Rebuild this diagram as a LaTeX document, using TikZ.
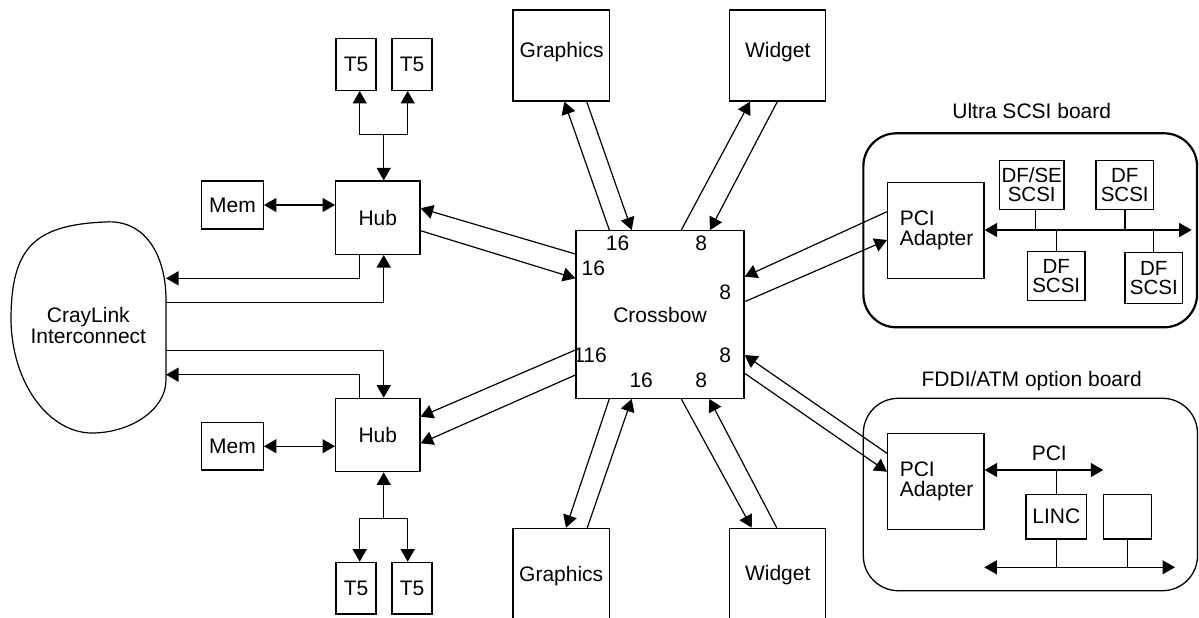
\documentclass[tikz,border=0pt]{standalone}
\usepackage{fontspec}
\setmainfont{Liberation Sans}
\usetikzlibrary{arrows.meta}
\begin{document}
\begin{tikzpicture}[x=1pt,y=-1pt,line width=1.2pt,
  font=\fontsize{21}{20.5}\selectfont,
  >={Triangle[length=12.5pt,width=14pt]},
  box/.style={draw,line width=1.3pt,inner sep=0pt,align=center},
  lbl/.style={inner sep=0pt,align=center},
  scsi/.style={box,font=\fontsize{20.5}{19.2}\selectfont},
  adapter/.style={box,minimum width=96.3pt,minimum height=95.8pt,
    align=left,text width=72pt,font=\fontsize{21}{19.5}\selectfont},
  board/.style={draw,inner sep=0pt}]

% canvas
\path[fill=white] (0,0) rectangle (1199,618);
\useasboundingbox (0,0) rectangle (1199,618);
\clip (0,0) rectangle (1199,618);

% option boards
\node[board,line width=2.2pt,rounded corners=33pt,minimum width=333.7pt,minimum height=194pt] (ultra) at (1030.2,230.3) {};
\node[board,line width=1.3pt,rounded corners=35pt,minimum width=334.2pt,minimum height=192.4pt] (fddi) at (1030.4,494.5) {};
\node[lbl] (ultraT) at (1031.7,111) {Ultra SCSI board};
\node[lbl] (fddiT) at (1031.7,381.5) {FDDI/ATM option board};

% node boards
\node[box,minimum width=40pt,minimum height=52pt] (t5a) at (356,64.3) {T5};
\node[box,minimum width=40pt,minimum height=52pt] (t5b) at (412,64.3) {T5};
\node[box,minimum width=84.3pt,minimum height=73.3pt] (hubA) at (377.8,217.7) {Hub};
\node[box,minimum width=61.6pt,minimum height=48pt] (memA) at (232.5,205) {Mem};
\node[box,minimum width=84.3pt,minimum height=73.4pt] (hubB) at (377.8,435) {Hub};
\node[box,minimum width=61.6pt,minimum height=47.7pt] (memB) at (232.5,446.2) {Mem};
\node[box,minimum width=40pt,minimum height=51.7pt] (t5c) at (356,588.2) {T5};
\node[box,minimum width=40pt,minimum height=51.7pt] (t5d) at (412,588.2) {T5};

% CrayLink interconnect
\draw (166,300) -- (166,380)
  .. controls (166,410) and (130,433) .. (92,433)
  .. controls (50,433) and (12,385) .. (11,320)
  .. controls (11,248) and (34,225) .. (105,222)
  .. controls (145,219) and (166,255) .. (166,300);
\node[lbl] (cray) at (88.3,325.3) {CrayLink\\Interconnect};
\coordinate (crayA) at (166,278.3);
\coordinate (crayB) at (166,302.3);
\coordinate (crayC) at (166,350.7);
\coordinate (crayD) at (166,374.7);

% crossbow
\node[box,minimum width=168pt,minimum height=167.6pt] (xbow) at (660,314.5) {Crossbow};
\node[lbl] (w1) at (617.5,243.7) {16};
\node[lbl] (w2) at (701.3,243.7) {8};
\node[lbl] (w3) at (593.3,268.3) {16};
\node[lbl] (w4) at (725.3,292) {8};
\node[lbl] (w5) at (590,355.5) {116};
\node[lbl] (w6) at (725.3,355.5) {8};
\node[lbl] (w7) at (641.2,380.3) {16};
\node[lbl] (w8) at (701.3,380.3) {8};

% graphics and widget ports
\node[box,minimum width=96.3pt,minimum height=91pt] (gfxT) at (561.2,55.5) {};
\node[lbl] (gfxTl) at (561.7,52.5) {Graphics};
\node[box,minimum width=96pt,minimum height=91pt] (wdgT) at (777.3,55.5) {};
\node[lbl] (wdgTl) at (777.7,52.5) {Widget};
\node[box,minimum width=96.3pt,minimum height=131.7pt] (gfxB) at (561.2,594.2) {};
\node[lbl] (gfxBl) at (561.2,576) {Graphics};
\node[box,minimum width=96pt,minimum height=131.7pt] (wdgB) at (777.3,594.2) {};
\node[lbl] (wdgBl) at (777.7,574.7) {Widget};

% Ultra SCSI board contents
\node[adapter] (pciA) at (935.8,230.5) {PCI\\Adapter};
\node[scsi,minimum width=64.7pt,minimum height=48.6pt] (dfse) at (1031.7,185) {DF/SE\\SCSI};
\node[scsi,minimum width=57.3pt,minimum height=48.6pt] (dfa) at (1124.7,185) {DF\\SCSI};
\node[scsi,minimum width=57.7pt,minimum height=49pt] (dfb) at (1056.2,276.2) {DF\\SCSI};
\node[scsi,minimum width=57.7pt,minimum height=50.6pt] (dfc) at (1153.8,278) {DF\\SCSI};
\coordinate (busA) at (1191.7,230);
\draw[<->] (pciA.east |- busA) -- (busA);
\draw (1035.7,0 |- dfse.south) -- (1035.7,0 |- busA);
\draw (1125,0 |- dfa.south) -- (1125,0 |- busA);
\draw (1056.7,0 |- busA) -- (1056.7,0 |- dfb.north);
\draw (1153.3,0 |- busA) -- (1153.3,0 |- dfc.north);

% FDDI/ATM board contents
\node[adapter] (pciB) at (935.8,481.3) {PCI\\Adapter};
\node[lbl] (pciL) at (1049.3,453.3) {PCI};
\node[box,minimum width=60.7pt,minimum height=44.7pt] (linc) at (1056.3,516.7) {LINC};
\node[box,minimum width=48.4pt,minimum height=44.7pt] (blank) at (1127.5,516.7) {};
\coordinate (busB) at (1103.3,470);
\draw[<->] (pciB.east |- busB) -- (busB);
\draw (linc.north |- busB) -- (linc.north);
\coordinate (busCl) at (984.3,567.3);
\coordinate (busCr) at (1175,567.3);
\draw[<->] (busCl) -- (busCr);
\draw (linc.south) -- (linc.south |- busCl);
\draw (blank.south) -- (blank.south |- busCl);

% upper hub links
\coordinate (jA) at (383.7,134.3);
\draw[->] (jA) -- (jA |- hubA.north);
\draw[->] (jA) -| (359.7,0 |- t5a.south);
\draw[->] (jA) -| (407.7,0 |- t5b.south);
\draw[<->] (memA.east) -- (memA.east -| hubA.west);
\draw[->] (359.7,0 |- hubA.south) |- (crayA);
\draw[->] (crayB) -| (383.7,0 |- hubA.south);

% lower hub links
\draw[->] (crayC) -| (383.7,0 |- hubB.north);
\draw[->] (359.7,0 |- hubB.north) |- (crayD);
\coordinate (jB) at (383.7,518.3);
\draw[->] (jB) -- (jB |- hubB.south);
\draw[->] (jB) -| (359.7,0 |- t5c.north);
\draw[->] (jB) -| (407.7,0 |- t5d.north);
\draw[<->] (memB.east) -- (memB.east -| hubB.west);

% hubs to crossbow
\draw[->] (xbow.west |- 0,254) -- (hubA.east |- 0,208.3);
\draw[->] (hubA.east |- 0,230.7) -- (xbow.west |- 0,278.3);
\draw[->] (xbow.west |- 0,350) -- (hubB.east |- 0,416.7);
\draw[->] (xbow.west |- 0,375) -- (hubB.east |- 0,443.3);

% graphics and widgets to crossbow
\draw[->] (xbow.north -| 609.3,0) -- (gfxT.south -| 564.3,0);
\draw[->] (gfxT.south -| 586.7,0) -- (xbow.north -| 631.7,0);
\draw[->] (xbow.north -| 681.3,0) -- (wdgT.south -| 750,0);
\draw[->] (wdgT.south -| 777.3,0) -- (xbow.north -| 710,0);
\draw[->] (xbow.south -| 609.3,0) -- (gfxB.north -| 566,0);
\draw[->] (gfxB.north -| 587.3,0) -- (xbow.south -| 631.7,0);
\draw[->] (xbow.south -| 681.3,0) -- (wdgB.north -| 751.7,0);
\draw[->] (wdgB.north -| 776.7,0) -- (xbow.south -| 709.3,0);

% PCI adapters to crossbow
\draw[->] (pciA.west |- 0,211.7) -- (xbow.east |- 0,276.7);
\draw[->] (xbow.east |- 0,301.7) -- (pciA.west |- 0,240);
\draw[->] (pciB.west |- 0,453.3) -- (xbow.east |- 0,355);
\draw[->] (xbow.east |- 0,373.3) -- (pciB.west |- 0,471.7);
\end{tikzpicture}
\end{document}
